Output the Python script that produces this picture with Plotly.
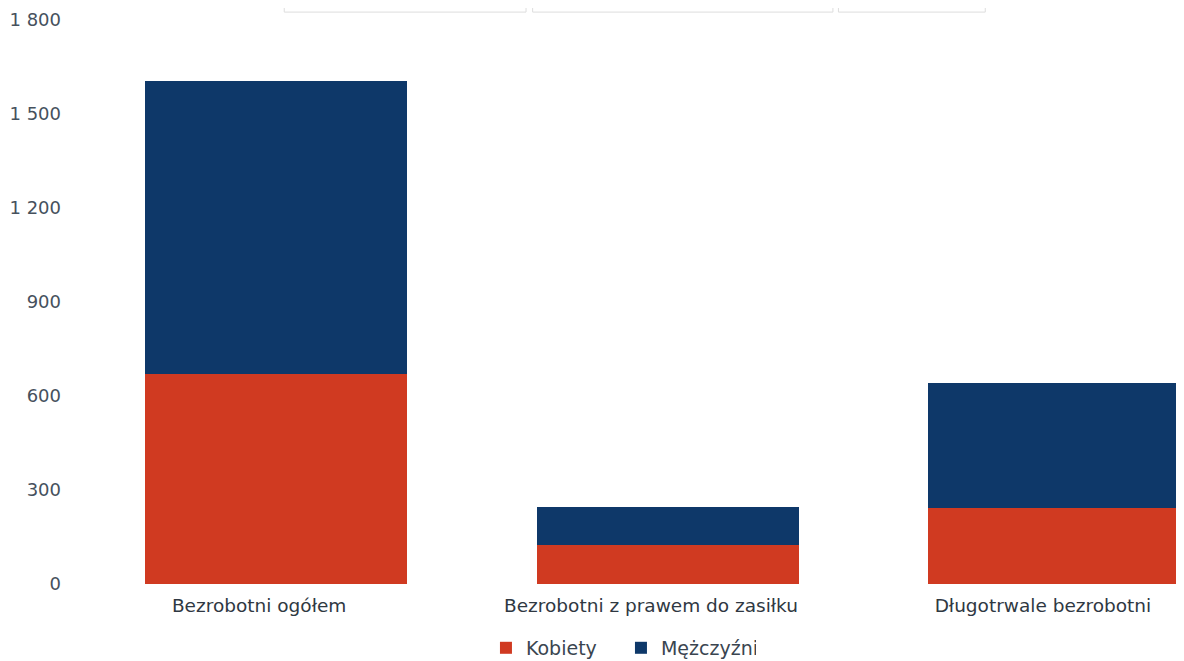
import plotly.graph_objects as go

categories = ["Bezrobotni ogółem", "Bezrobotni z prawem do zasiłku", "Długotrwale bezrobotni"]
kobiety = [670, 125, 243]
mezczyzni = [935, 121, 399]
tick_vals = [0, 300, 600, 900, 1200, 1500, 1800]

FONT = "DejaVu Sans"
TXT = "#46515d"

fig = go.Figure()
fig.add_trace(go.Bar(x=categories, y=kobiety, name="Kobiety",
                     marker=dict(color="#d03a21", line=dict(width=0)),
                     width=0.67, offset=-0.292))
fig.add_trace(go.Bar(x=categories, y=mezczyzni, name="Mężczyźni",
                     marker=dict(color="#0e3869", line=dict(width=0)),
                     width=0.67, offset=-0.292))

# faint remnants of a table frame at the top
for x0, x1 in [(0.185, 0.404), (0.410, 0.682), (0.687, 0.820)]:
    fig.add_shape(type="rect", xref="paper", yref="paper", x0=x0, x1=x1,
                  y0=1.014, y1=1.2, line=dict(color="#dddddd", width=1))

fig.update_layout(
    barmode="stack",
    width=1176, height=653,
    margin=dict(l=72, r=0, t=12, b=77, autoexpand=False),
    paper_bgcolor="white", plot_bgcolor="white",
    separators=". ",
    font=dict(family=FONT, size=15, color=TXT),
    showlegend=True,
    legend=dict(orientation="h", x=0.49, xanchor="center", yref="container",
                y=0.02, yanchor="middle", entrywidth=90, entrywidthmode="pixels",
                font=dict(size=19, color="#3a4550"), itemwidth=30, traceorder="normal"),
    xaxis=dict(type="category", range=[-0.457, 2.360], showgrid=False, zeroline=False,
               showline=False, ticks="", ticklabelstandoff=8,
               tickfont=dict(size=18.5, color="#2f3842")),
    yaxis=dict(range=[0, 1800], tickvals=tick_vals, tickformat=",d", showgrid=False,
               zeroline=False, showline=False, ticks="", ticklabelstandoff=18,
               tickfont=dict(size=18, color=TXT)),
)

fig.write_html("out.html")
